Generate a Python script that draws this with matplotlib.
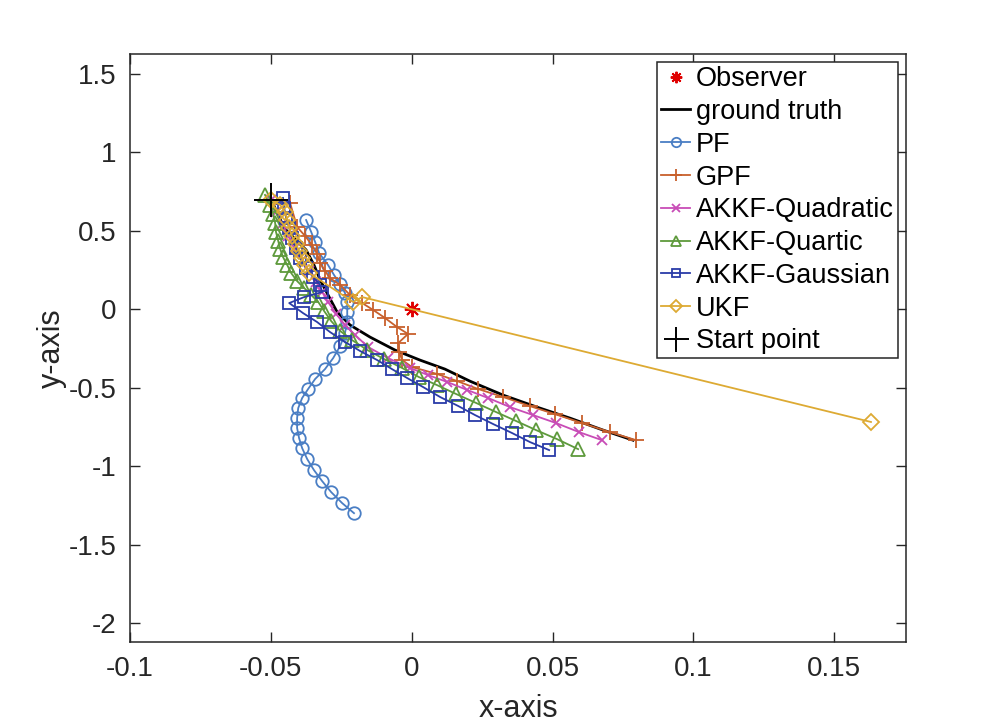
import matplotlib
matplotlib.use('Agg')
import matplotlib.pyplot as plt

plt.rcParams['font.family'] = ['Liberation Sans', 'DejaVu Sans']

# observer and start
observer = (0.0, 0.0)
start_pt = (-0.0499, 0.697)

# ground truth
gt_x = [-0.0499, -0.0474, -0.0453, -0.0411, -0.0375, -0.0347, -0.0325, -0.0297, -0.0265, -0.0219,
        -0.0148, -0.0059, 0.0030, 0.0118, 0.0207, 0.0325, 0.0446, 0.0563, 0.0680, 0.0786]
gt_y = [0.697, 0.601, 0.518, 0.442, 0.378, 0.282, 0.187, 0.091, -0.017, -0.100,
        -0.177, -0.260, -0.324, -0.381, -0.458, -0.547, -0.624, -0.694, -0.770, -0.834]

# PF
pf_x = [-0.0375, -0.0357, -0.0343, -0.0329, -0.0297, -0.0276, -0.0254, -0.0237, -0.0229, -0.0229,
        -0.0229, -0.0237, -0.0254, -0.0279, -0.0308, -0.0343, -0.0368, -0.0389, -0.0403, -0.0407,
        -0.0407, -0.0400, -0.0389, -0.0371, -0.0347, -0.0318, -0.0286, -0.0247, -0.0205]
pf_y = [0.569, 0.493, 0.429, 0.359, 0.282, 0.219, 0.161, 0.104, 0.047, -0.017,
        -0.081, -0.151, -0.234, -0.311, -0.381, -0.444, -0.508, -0.565, -0.629, -0.693,
        -0.757, -0.821, -0.885, -0.955, -1.025, -1.095, -1.165, -1.235, -1.299]

# GPF
gpf_x = [-0.0499, -0.0432, -0.0407, -0.0379, -0.0354, -0.0336, -0.0325, -0.0308, -0.0290, -0.0254,
         -0.0219, -0.0176, -0.0137, -0.0095, -0.0052, -0.0013, -0.0048, -0.0045, -0.0034, 0.0001,
         0.0090, 0.0161, 0.0236, 0.0325, 0.0420, 0.0509, 0.0605, 0.0705, 0.0797]
gpf_y = [0.697, 0.678, 0.525, 0.468, 0.410, 0.353, 0.295, 0.244, 0.199, 0.155,
         0.091, 0.040, -0.004, -0.055, -0.113, -0.157, -0.215, -0.272, -0.323, -0.368,
         -0.412, -0.457, -0.508, -0.559, -0.617, -0.668, -0.725, -0.783, -0.834]

# AKKF-Quadratic
quad_x = [-0.0499, -0.0482, -0.0460, -0.0439, -0.0414, -0.0389, -0.0364, -0.0339, -0.0318, -0.0297,
          -0.0268, -0.0237, -0.0201, -0.0155, -0.0084, -0.0006, 0.0058, 0.0126, 0.0197, 0.0271,
          0.0349, 0.0431, 0.0513, 0.0595, 0.0676]
quad_y = [0.697, 0.620, 0.544, 0.467, 0.391, 0.314, 0.244, 0.174, 0.110, 0.047,
          -0.030, -0.100, -0.164, -0.240, -0.311, -0.374, -0.419, -0.463, -0.514, -0.565,
          -0.623, -0.674, -0.725, -0.783, -0.834]

# AKKF-Quartic
quart_x = [-0.0521, -0.0503, -0.0492, -0.0485, -0.0482, -0.0474, -0.0467, -0.0457, -0.0442, -0.0428,
           -0.0407, -0.0382, -0.0357, -0.0332, -0.0311, -0.0286, -0.0254, -0.0212, -0.0158, -0.0098,
           -0.0034, 0.0026, 0.0090, 0.0158, 0.0229, 0.0300, 0.0371, 0.0442, 0.0516, 0.0591]
quart_y = [0.729, 0.665, 0.608, 0.550, 0.493, 0.435, 0.384, 0.333, 0.282, 0.231,
           0.180, 0.136, 0.091, 0.047, -0.011, -0.075, -0.138, -0.196, -0.259, -0.317,
           -0.374, -0.432, -0.483, -0.540, -0.597, -0.655, -0.712, -0.770, -0.827, -0.891]

# AKKF-Gaussian
gauss_x = [-0.0457, -0.0453, -0.0446, -0.0435, -0.0425, -0.0411, -0.0396, -0.0375, -0.0350, -0.0325,
           -0.0318, -0.0382, -0.0435, -0.0386, -0.0336, -0.0290, -0.0237, -0.0183, -0.0123, -0.0070,
           -0.0016, 0.0040, 0.0101, 0.0165, 0.0225, 0.0289, 0.0357, 0.0420, 0.0488]
gauss_y = [0.710, 0.646, 0.582, 0.518, 0.455, 0.391, 0.327, 0.263, 0.206, 0.155,
           0.110, 0.078, 0.040, -0.024, -0.081, -0.145, -0.208, -0.266, -0.323, -0.381,
           -0.438, -0.495, -0.559, -0.616, -0.674, -0.731, -0.789, -0.846, -0.897]

# UKF
ukf_x = [-0.0499, -0.0467, -0.0450, -0.0442, -0.0435, -0.0425, -0.0411, -0.0400, -0.0389, -0.0379,
         -0.0364, -0.0208, -0.0176, 0.1631]
ukf_y = [0.697, 0.665, 0.620, 0.569, 0.518, 0.467, 0.416, 0.372, 0.327, 0.282,
         0.231, 0.047, 0.078, -0.718]

xticks = [-0.1, -0.05, 0, 0.05, 0.1, 0.15]
xtick_labels = ['-0.1', '-0.05', '0', '0.05', '0.1', '0.15']
yticks = [-2, -1.5, -1, -0.5, 0, 0.5, 1, 1.5]
ytick_labels = ['-2', '-1.5', '-1', '-0.5', '0', '0.5', '1', '1.5']

fig = plt.figure(figsize=(10.01, 7.25), dpi=100)
ax = fig.add_axes([0.13, 0.1145, 0.775, 0.811])

lw = 1.3
ms = 9
mew = 1.3
ax.plot(*observer, linestyle='none', marker=(8, 2, 0), color='#e00000', markersize=11,
        markeredgewidth=1.4, label='Observer')
ax.plot(gt_x, gt_y, color='black', linewidth=2.0, label='ground truth')
ax.plot(pf_x, pf_y, color='#4a7ec4', marker='o', markerfacecolor='none', markersize=ms,
        markeredgewidth=mew, linewidth=lw, label='PF')
ax.plot(gpf_x, gpf_y, color='#c8602c', marker='+', markersize=ms + 3,
        markeredgewidth=mew, linewidth=lw, label='GPF')
ax.plot(quad_x, quad_y, color='#c84cb6', marker='x', markersize=ms - 2,
        markeredgewidth=mew, linewidth=lw, label='AKKF-Quadratic')
ax.plot(quart_x, quart_y, color='#5e9a3c', marker='^', markerfacecolor='none', markersize=ms + 1,
        markeredgewidth=mew, linewidth=lw, label='AKKF-Quartic')
ax.plot(gauss_x, gauss_y, color='#2a3ca8', marker='s', markerfacecolor='none', markersize=ms - 1,
        markeredgewidth=mew, linewidth=lw, label='AKKF-Gaussian')
ax.plot(ukf_x, ukf_y, color='#ddaa33', marker='D', markerfacecolor='none', markersize=ms - 1,
        markeredgewidth=mew, linewidth=lw, label='UKF')
ax.plot(*start_pt, linestyle='none', marker='+', color='black', markersize=24,
        markeredgewidth=1.4, label='Start point')

ax.set_xlim(-0.1, 0.1755)
ax.set_ylim(-2.12, 1.627)
ax.set_xticks(xticks)
ax.set_xticklabels(xtick_labels)
ax.set_yticks(yticks)
ax.set_yticklabels(ytick_labels)
ax.tick_params(direction='in', length=7, width=1, top=True, right=True,
               labelsize=20, colors='#262626', pad=10)
for s in ax.spines.values():
    s.set_color('#262626')
    s.set_linewidth(1.1)
ax.set_xlabel('x-axis', fontsize=22, color='#262626', labelpad=9)
ax.set_ylabel('y-axis', fontsize=22, color='#262626', labelpad=1)

leg = ax.legend(loc='upper right', fontsize=19.5, handlelength=1.1, handletextpad=0.2,
                labelspacing=0.25, borderpad=0.15, borderaxespad=0.3, fancybox=False,
                framealpha=1, edgecolor='#262626', markerscale=0.75)
leg.get_frame().set_linewidth(1.1)

fig.savefig('out.png', dpi=100)
